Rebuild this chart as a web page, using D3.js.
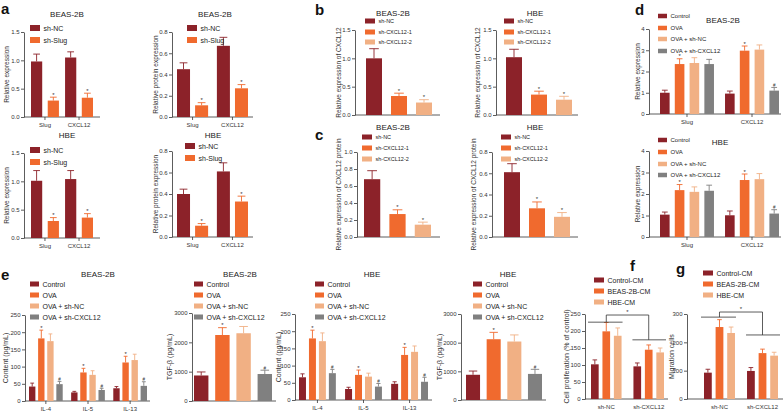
<!DOCTYPE html>
<html>
<head>
<meta charset="utf-8">
<script src="https://cdn.jsdelivr.net/npm/d3@7"></script>
<style>
body { margin: 0; background: #fff; }
svg { display: block; }
</style>
</head>
<body>
<svg id="fig" width="784" height="413"></svg>
<script>
const font = "'Liberation Sans', Arial, sans-serif"
const darkRed = "#8c2229", orange = "#f06a2e", peach = "#f1b084", grey = "#808080"

// panel a
const slugCats = ["Slug", "CXCL12"]
const slugSeries = ["sh-NC", "sh-Slug"]
const aBeasExpr = [[0.98, 1.05], [0.29, 0.34]]
const aBeasExprErr = [[0.13, 0.10], [0.06, 0.08]]
const aBeasProt = [[0.45, 0.67], [0.11, 0.27]]
const aBeasProtErr = [[0.06, 0.08], [0.025, 0.035]]
const aHbeExpr = [[1.01, 1.04], [0.30, 0.36]]
const aHbeExprErr = [[0.18, 0.15], [0.06, 0.07]]
const aHbeProt = [[0.40, 0.61], [0.105, 0.33]]
const aHbeProtErr = [[0.045, 0.08], [0.02, 0.05]]
const aMarks = [["", ""], ["*", "*"]]

// panels b, c
const kdSeries = ["sh-NC", "sh-CXCL12-1", "sh-CXCL12-2"]
const bBeas = [1.0, 0.335, 0.22], bBeasErr = [0.17, 0.05, 0.05]
const bHbe = [1.02, 0.36, 0.27], bHbeErr = [0.14, 0.06, 0.06]
const cBeas = [0.68, 0.27, 0.145], cBeasErr = [0.10, 0.05, 0.03]
const cHbe = [0.61, 0.27, 0.19], cHbeErr = [0.08, 0.06, 0.04]
const kdMarks = ["", "*", "*"]

// panel d
const ovaSeries = ["Control", "OVA", "OVA + sh-NC", "OVA + sh-CXCL12"]
const dBeas = [[1.0, 0.96], [2.35, 2.98], [2.4, 3.03], [2.35, 1.1]]
const dBeasErr = [[0.12, 0.12], [0.25, 0.22], [0.25, 0.22], [0.22, 0.15]]
const dHbe = [[1.04, 1.01], [2.18, 2.65], [2.1, 2.69], [2.15, 1.09]]
const dHbeErr = [[0.12, 0.2], [0.26, 0.28], [0.23, 0.26], [0.26, 0.18]]
const dMarks = [["", ""], ["*", "*"], ["", ""], ["", "#"]]

// panel e
const ilCats = ["IL-4", "IL-5", "IL-13"]
const eBeasIl = [[42, 25, 37], [182, 83, 112], [174, 76, 119], [49, 32, 44]]
const eBeasIlErr = [[10, 3, 5], [24, 12, 18], [21, 12, 17], [8, 5, 12]]
const eHbeIl = [[66, 32, 47], [179, 73, 131], [171, 68, 140], [78, 39, 53]]
const eHbeIlErr = [[10, 5, 6], [24, 14, 22], [24, 10, 17], [11, 9, 13]]
const eIlMarks = [["", "", ""], ["*", "*", "*"], ["", "", ""], ["#", "#", "#"]]
const eBeasTgf = [870, 2250, 2310, 920], eBeasTgfErr = [120, 250, 230, 130]
const eHbeTgf = [880, 2120, 2040, 910], eHbeTgfErr = [130, 240, 230, 160]
const eTgfMarks = ["", "*", "", "#"]

// panels f, g
const cmCats = ["sh-NC", "sh-CXCL12"]
const cmSeries = ["Control-CM", "BEAS-2B-CM", "HBE-CM"]
const fProlif = [[102, 96], [199, 145], [186, 137]]
const fProlifErr = [[13, 10], [26, 14], [23, 13]]
const gMigr = [[93, 99], [254, 162], [233, 153]]
const gMigrErr = [[12, 12], [26, 14], [21, 12]]
const fBracket = [226, 247, 174]
const gBracket = [289, 307, 226]

const svg = d3.select("#fig").attr("font-family", font)

// single-category panels need values as series x [one category]
const col = (arr) => arr.map((v) => [v])

function drawPanel(p) {
    const g = svg.append("g")
    const y = d3.scaleLinear().domain([0, p.max]).range([p.y0, p.y1])
    const x0 = d3.scaleBand().domain(p.cats).range([p.gx0, p.gx1]).paddingInner(p.pOut || 0)
    const x1 = d3.scaleBand().domain(p.series).range([0, x0.bandwidth()]).paddingInner(p.pIn)

    const yAxis = g.append("g")
        .attr("transform", `translate(${p.ax},0)`)
        .call(d3.axisLeft(y).tickValues(p.ticks).tickFormat(d3.format(p.fmt)).tickSize(3).tickSizeOuter(0))
    yAxis.attr("font-family", font).attr("font-size", p.tickSize || 6)
    yAxis.selectAll("path, line").attr("stroke", "#333").attr("stroke-width", 0.8)
    yAxis.selectAll("text").attr("fill", "#333").attr("x", -4.5)

    g.append("line")
        .attr("x1", p.ax).attr("x2", p.end)
        .attr("y1", p.y0).attr("y2", p.y0)
        .attr("stroke", "#333").attr("stroke-width", 0.8)

    if (p.catLabels) {
        p.cats.forEach((c) => {
            const cx = x0(c) + x0.bandwidth() / 2
            if (p.xTicks) {
                g.append("line").attr("x1", cx).attr("x2", cx)
                    .attr("y1", p.y0).attr("y2", p.y0 + 3)
                    .attr("stroke", "#333").attr("stroke-width", 0.8)
            }
            g.append("text").text(c)
                .attr("x", cx).attr("y", p.y0 + 9.5)
                .attr("text-anchor", "middle").attr("font-size", 6).attr("fill", "#333")
        })
    }

    let rows = []
    p.series.forEach((s, i) => {
        p.cats.forEach((c, j) => {
            rows.push({ s, c, i, v: p.vals[i][j], e: p.errs[i][j], m: p.marks[i][j] })
        })
    })

    const bw = x1.bandwidth()
    const cx = (d) => x0(d.c) + x1(d.s) + bw / 2

    g.selectAll("rect.bar")
        .data(rows)
        .join("rect")
        .attr("class", "bar")
        .attr("x", (d) => x0(d.c) + x1(d.s))
        .attr("y", (d) => y(d.v))
        .attr("width", bw)
        .attr("height", (d) => p.y0 - y(d.v))
        .attr("fill", (d) => p.colors[d.i])

    g.selectAll("line.err")
        .data(rows)
        .join("line")
        .attr("class", "err")
        .attr("x1", cx).attr("x2", cx)
        .attr("y1", (d) => y(d.v)).attr("y2", (d) => y(d.v + d.e))
        .attr("stroke", (d) => p.colors[d.i]).attr("stroke-width", 0.9)

    g.selectAll("line.cap")
        .data(rows)
        .join("line")
        .attr("class", "cap")
        .attr("x1", (d) => cx(d) - bw * 0.3).attr("x2", (d) => cx(d) + bw * 0.3)
        .attr("y1", (d) => y(d.v + d.e)).attr("y2", (d) => y(d.v + d.e))
        .attr("stroke", (d) => p.colors[d.i]).attr("stroke-width", 0.9)

    g.selectAll("text.mark")
        .data(rows.filter((d) => d.m))
        .join("text")
        .attr("class", "mark")
        .text((d) => d.m)
        .attr("x", cx)
        .attr("y", (d) => y(d.v + d.e) - 0.5)
        .attr("text-anchor", "middle")
        .attr("font-size", (d) => d.m === "*" ? 6 : 4.5)
        .attr("fill", "#333")

    // legend
    const sw = p.sw || [10, 5]
    p.series.forEach((s, i) => {
        g.append("rect")
            .attr("x", p.lx).attr("y", p.ly[i] - sw[1] / 2)
            .attr("width", sw[0]).attr("height", sw[1])
            .attr("fill", p.colors[i])
        g.append("text").text(s)
            .attr("x", p.lx + sw[0] + 3.5).attr("y", p.ly[i] + p.legendSize * 0.36)
            .attr("font-size", p.legendSize).attr("fill", "#222")
    })

    if (p.title) {
        g.append("text").text(p.title)
            .attr("x", p.titleX).attr("y", p.titleY)
            .attr("text-anchor", "middle").attr("font-size", 8).attr("fill", "#222")
    }

    g.append("text").text(p.ylabel)
        .attr("transform", `translate(${p.ylx},${(p.y0 + p.y1) / 2}) rotate(-90)`)
        .attr("text-anchor", "middle").attr("dominant-baseline", "middle")
        .attr("font-size", p.ylabelSize || 6.5).attr("fill", "#333")

    return { g, x0, y }
}

function drawBracket(s, lv) {
    const bw = s.x0.bandwidth()
    const [a, b] = s.x0.domain()
    const ca = s.x0(a) + bw / 2, cb = s.x0(b) + bw / 2
    const path = d3.path()
    path.moveTo(s.x0(a) - 3, s.y(lv[0])); path.lineTo(s.x0(a) + bw + 1, s.y(lv[0]))
    path.moveTo(ca, s.y(lv[0])); path.lineTo(ca, s.y(lv[1]))
    path.lineTo(cb, s.y(lv[1])); path.lineTo(cb, s.y(lv[2]))
    path.moveTo(s.x0(b) - 1, s.y(lv[2])); path.lineTo(s.x0(b) + bw + 2, s.y(lv[2]))
    s.g.append("path").attr("d", path.toString())
        .attr("fill", "none").attr("stroke", "#333").attr("stroke-width", 0.8)
    s.g.append("text").text("*")
        .attr("x", (ca + cb) / 2).attr("y", s.y(lv[1]) - 1)
        .attr("text-anchor", "middle").attr("font-size", 6).attr("fill", "#333")
}

const twoColors = [darkRed, orange]
const threeColors = [darkRed, orange, peach]
const fourColors = [darkRed, orange, peach, grey]
const decTicks = (max, step) => d3.range(0, max + step / 2, step)

// a
const aExpr = { cats: slugCats, series: slugSeries, colors: twoColors, marks: aMarks,
    ax: 24, end: 100, gx0: 31, gx1: 93, pOut: 0.18, pIn: 0.33, max: 1.5,
    ticks: decTicks(1.5, 0.5), fmt: ".1f", catLabels: true, xTicks: true,
    lx: 30, sw: [10, 6], legendSize: 7, ylabel: "Relative expression", ylx: 7 }
const aProt = { cats: slugCats, series: slugSeries, colors: twoColors, marks: aMarks,
    ax: 172, end: 253, gx0: 177, gx1: 248, pOut: 0.22, pIn: 0.28, max: 0.8,
    ticks: decTicks(0.8, 0.2), fmt: ".1f", catLabels: true, xTicks: true,
    sw: [10, 6], legendSize: 7, ylabel: "Relative protein expression", ylx: 156 }
drawPanel({ ...aExpr, vals: aBeasExpr, errs: aBeasExprErr, y0: 117, y1: 32,
    ly: [28, 40], title: "BEAS-2B", titleX: 67, titleY: 17 })
drawPanel({ ...aProt, vals: aBeasProt, errs: aBeasProtErr, y0: 117, y1: 32,
    lx: 187, ly: [28, 40], title: "BEAS-2B", titleX: 215, titleY: 17 })
drawPanel({ ...aExpr, vals: aHbeExpr, errs: aHbeExprErr, y0: 238, y1: 153,
    ly: [150, 162], title: "HBE", titleX: 67, titleY: 138 })
drawPanel({ ...aProt, vals: aHbeProt, errs: aHbeProtErr, y0: 237, y1: 151,
    lx: 185, ly: [146, 158], title: "HBE", titleX: 213, titleY: 138 })

// b, c
const kd = { cats: [""], series: kdSeries, colors: threeColors, marks: col(kdMarks),
    pIn: 0.36, fmt: ".1f", sw: [10, 5], legendSize: 5.5, tickSize: 6 }
drawPanel({ ...kd, vals: col(bBeas), errs: col(bBeasErr), ax: 355, end: 440, gx0: 366, gx1: 432,
    y0: 115, y1: 30, max: 1.5, ticks: decTicks(1.5, 0.5), lx: 365, ly: [21, 32, 42],
    title: "BEAS-2B", titleX: 393, titleY: 16, ylabel: "Relative expression of CXCL12", ylx: 339 })
drawPanel({ ...kd, vals: col(bHbe), errs: col(bHbeErr), ax: 496, end: 578, gx0: 506, gx1: 572,
    y0: 115, y1: 30, max: 1.5, ticks: decTicks(1.5, 0.5), lx: 504, ly: [21, 32, 42],
    title: "HBE", titleX: 535, titleY: 16, ylabel: "Relative expression of CXCL12", ylx: 478 })
drawPanel({ ...kd, vals: col(cBeas), errs: col(cBeasErr), ax: 357, end: 440, gx0: 364, gx1: 431,
    y0: 237, y1: 152, max: 1.0, ticks: decTicks(1.0, 0.2), lx: 362, ly: [137, 148, 159],
    title: "BEAS-2B", titleX: 393, titleY: 130, ylabel: "Relative expression of CXCL12 protein", ylx: 339 })
drawPanel({ ...kd, vals: col(cHbe), errs: col(cHbeErr), ax: 492, end: 578, gx0: 504, gx1: 570,
    y0: 237, y1: 152, max: 0.8, ticks: decTicks(0.8, 0.2), lx: 501, ly: [137, 148, 159],
    title: "HBE", titleX: 535, titleY: 130, ylabel: "Relative expression of CXCL12 protein", ylx: 474 })

// d
const dBase = { cats: slugCats, series: ovaSeries, colors: fourColors, marks: dMarks,
    ax: 649, end: 781, gx0: 660, gx1: 779, pOut: 0.17, pIn: 0.35, max: 4,
    ticks: decTicks(4, 1), fmt: "d", catLabels: true, xTicks: true, lx: 658, sw: [9, 4.5],
    legendSize: 6, ylabel: "Relative expression", ylx: 638 }
drawPanel({ ...dBase, vals: dBeas, errs: dBeasErr, y0: 114, y1: 29,
    ly: [16, 28, 39, 51], title: "BEAS-2B", titleX: 723, titleY: 23 })
drawPanel({ ...dBase, vals: dHbe, errs: dHbeErr, y0: 237, y1: 151,
    ly: [140, 152, 164, 175], title: "HBE", titleX: 720, titleY: 145 })

// e
const eLy = [284, 295, 306, 317]
const eIl = { cats: ilCats, series: ovaSeries, colors: fourColors, marks: eIlMarks,
    pOut: 0.2, pIn: 0.3, max: 250, ticks: decTicks(250, 50), fmt: "d", catLabels: true, xTicks: true,
    sw: [9, 5], legendSize: 7, ly: eLy, ylabel: "Content (pg/mL)", ylabelSize: 7 }
const eTgf = { cats: [""], series: ovaSeries, colors: fourColors, marks: col(eTgfMarks),
    pIn: 0.32, max: 3000, ticks: decTicks(3000, 1000), fmt: "d",
    sw: [9, 5], legendSize: 7, ly: eLy, ylabel: "TGF-\u03b2 (pg/mL)", ylabelSize: 7 }
drawPanel({ ...eIl, vals: eBeasIl, errs: eBeasIlErr, ax: 25, end: 150, gx0: 29, gx1: 147,
    y0: 401, y1: 315, lx: 30, title: "BEAS-2B", titleX: 98, titleY: 277, ylx: 6 })
drawPanel({ ...eTgf, vals: col(eBeasTgf), errs: col(eBeasTgfErr), ax: 192, end: 276, gx0: 194, gx1: 272,
    y0: 401, y1: 313, lx: 194, title: "BEAS-2B", titleX: 240, titleY: 277, ylx: 170 })
drawPanel({ ...eIl, vals: eHbeIl, errs: eHbeIlErr, ax: 295, end: 432, gx0: 299, gx1: 428,
    y0: 400, y1: 314, lx: 315, title: "HBE", titleX: 372, titleY: 277, ylx: 279 })
drawPanel({ ...eTgf, vals: col(eHbeTgf), errs: col(eHbeTgfErr), ax: 461, end: 546, gx0: 466, gx1: 542,
    y0: 400, y1: 314, lx: 473, title: "HBE", titleX: 508, titleY: 277, ylx: 440 })

// f, g
const cm = { cats: cmCats, series: cmSeries, colors: threeColors, pOut: 0.28, pIn: 0.33,
    fmt: "d", catLabels: true, xTicks: false, sw: [10, 5], legendSize: 7, ylabelSize: 7, y0: 399, y1: 314 }
const fPanel = drawPanel({ ...cm, vals: fProlif, errs: fProlifErr, marks: [["", ""], ["", ""], ["", ""]],
    ax: 585, end: 668, gx0: 591, gx1: 664, max: 250, ticks: decTicks(250, 50),
    lx: 594, ly: [280, 291, 302], ylabel: "Cell proliferation (% of control)", ylx: 567 })
drawBracket(fPanel, fBracket)
const gPanel = drawPanel({ ...cm, vals: gMigr, errs: gMigrErr, marks: [["", ""], ["", ""], ["", ""]],
    ax: 687, end: 783, gx0: 704, gx1: 778, max: 300, ticks: decTicks(300, 100),
    lx: 703, ly: [273, 284, 295], ylabel: "Migration cells", ylx: 672 })
drawBracket(gPanel, gBracket)

// panel letters
const letters = [["a", 1, 14], ["b", 315, 15], ["c", 315, 140], ["d", 635, 15],
    ["e", 1, 280], ["f", 630, 271], ["g", 676, 274]]
svg.selectAll("text.letter")
    .data(letters)
    .join("text")
    .attr("class", "letter")
    .text((d) => d[0])
    .attr("x", (d) => d[1]).attr("y", (d) => d[2])
    .attr("font-size", 15).attr("font-weight", "bold").attr("fill", "#111")
</script>
</body>
</html>
